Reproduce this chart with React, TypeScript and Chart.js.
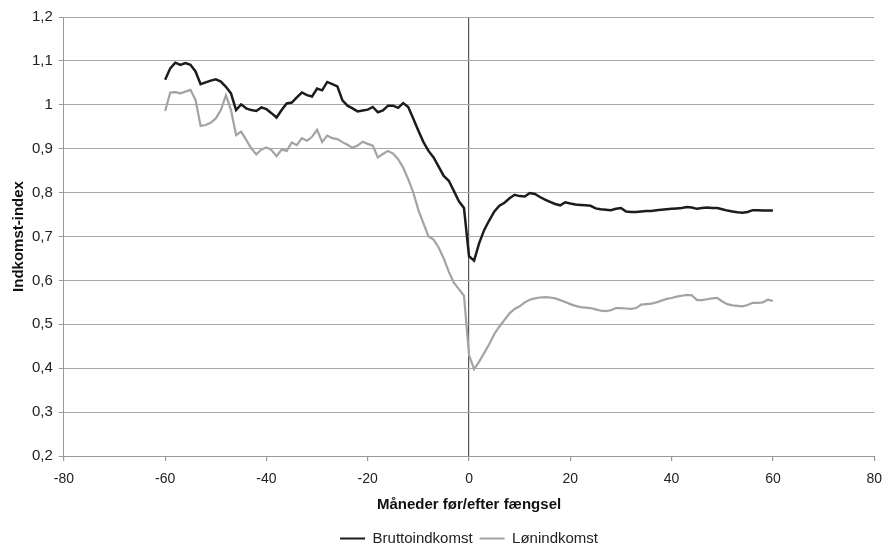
import React, { useEffect, useRef } from "react";
import { Chart, registerables } from "chart.js";

Chart.register(...registerables);

const startMonth = -60;
const months: number[] = Array.from({ length: 121 }, (_, i) => startMonth + i);

const bruttoindkomst: number[] = [
  1.057, 1.083, 1.096, 1.091, 1.095, 1.091, 1.076, 1.047, 1.051, 1.055,
  1.058, 1.053, 1.041, 1.026, 0.988, 1.001, 0.992, 0.988, 0.986, 0.994,
  0.99, 0.981, 0.971, 0.988, 1.003, 1.005, 1.017, 1.028, 1.022, 1.019,
  1.037, 1.033, 1.052, 1.047, 1.042, 1.01, 0.998, 0.992, 0.985, 0.987,
  0.989, 0.995, 0.983, 0.987, 0.998, 0.998, 0.993, 1.004, 0.995, 0.968,
  0.941, 0.915, 0.895, 0.88, 0.859, 0.838, 0.827, 0.804, 0.78, 0.765,
  0.655,
  0.645, 0.685, 0.715, 0.737, 0.757, 0.77, 0.777, 0.787, 0.795, 0.792,
  0.791, 0.799, 0.797, 0.79, 0.784, 0.779, 0.774, 0.771, 0.778, 0.775,
  0.773, 0.772, 0.771, 0.77, 0.764, 0.762, 0.761, 0.76, 0.763, 0.765,
  0.757, 0.756, 0.756, 0.757, 0.758, 0.758, 0.76, 0.761, 0.762, 0.763,
  0.764, 0.765, 0.767, 0.766, 0.763, 0.765, 0.766, 0.765, 0.765, 0.762,
  0.759, 0.757, 0.755, 0.754, 0.756, 0.76, 0.76, 0.759, 0.759, 0.759,
];

const loenindkomst: number[] = [
  0.986, 1.028, 1.029, 1.026, 1.03, 1.034, 1.011, 0.952, 0.954, 0.959,
  0.969, 0.988, 1.022, 0.988, 0.931, 0.939, 0.92, 0.901, 0.887, 0.898,
  0.903, 0.897, 0.883, 0.898, 0.895, 0.914, 0.908, 0.924, 0.918, 0.927,
  0.943, 0.915, 0.93, 0.924, 0.922, 0.915, 0.909, 0.902, 0.907, 0.916,
  0.911, 0.907, 0.88, 0.888, 0.895, 0.889, 0.876, 0.857, 0.83, 0.8,
  0.76, 0.73, 0.7, 0.693, 0.675, 0.65, 0.62, 0.595, 0.58, 0.565,
  0.43,
  0.398, 0.415, 0.435, 0.455, 0.478, 0.495, 0.51, 0.525, 0.535, 0.541,
  0.55, 0.556, 0.559, 0.561, 0.562, 0.561, 0.559, 0.555, 0.551, 0.546,
  0.542, 0.539, 0.538, 0.537, 0.534, 0.531, 0.53, 0.532, 0.537, 0.537,
  0.536, 0.535, 0.537, 0.545, 0.546, 0.547, 0.55, 0.554, 0.558, 0.56,
  0.563, 0.565, 0.567, 0.566, 0.555, 0.555, 0.557, 0.559, 0.56, 0.552,
  0.546, 0.543, 0.542, 0.541, 0.544, 0.549, 0.549, 0.55, 0.556, 0.553,
];

const seriesNames = ["Bruttoindkomst", "Lønindkomst"];
const xTitle = "Måneder før/efter fængsel";
const yTitle = "Indkomst-index";

export default function App() {
  const ref = useRef<HTMLCanvasElement | null>(null);
  useEffect(() => {
    if (!ref.current) return;
    const font = "'Liberation Sans', Arial, sans-serif";
    const chart = new Chart(ref.current, {
      type: "line",
      data: {
        datasets: [
          {
            label: seriesNames[0],
            data: months.map((m, i) => ({ x: m, y: bruttoindkomst[i] })),
            borderColor: "#1c1c1c",
            backgroundColor: "#1c1c1c",
            borderWidth: 2.5,
            pointRadius: 0,
            tension: 0,
          },
          {
            label: seriesNames[1],
            data: months.map((m, i) => ({ x: m, y: loenindkomst[i] })),
            borderColor: "#a3a3a3",
            backgroundColor: "#a3a3a3",
            borderWidth: 2.2,
            pointRadius: 0,
            tension: 0,
          },
        ],
      },
      options: {
        animation: false,
        responsive: true,
        maintainAspectRatio: false,
        layout: { padding: { left: 11, right: 0, top: 17, bottom: 0 } },
        plugins: {
          legend: {
            position: "bottom",
            fullSize: false,
            labels: {
              boxWidth: 25,
              boxHeight: 2,
              color: "#222",
              font: { family: font, size: 15 },
              padding: 7,
              generateLabels: (c: any) =>
                Chart.defaults.plugins.legend.labels
                  .generateLabels(c)
                  .map((l: any) => ({ ...l, lineWidth: 0 })),
            },
          },
          tooltip: { enabled: false },
        },
        scales: {
          x: {
            type: "linear",
            min: -80,
            max: 80,
            ticks: {
              stepSize: 20,
              color: "#222",
              font: { family: font, size: 14, lineHeight: 1 },
              padding: 11,
            },
            grid: {
              color: (ctx: any) => (ctx.tick && ctx.tick.value === 0 ? "#555" : "rgba(0,0,0,0)"),
              tickColor: "#999",
              tickLength: 5,
              lineWidth: 1.2,
            },
            border: { color: "#999" },
            title: {
              display: true,
              text: xTitle,
              color: "#111",
              font: { family: font, size: 15, weight: "bold", lineHeight: 1 },
              padding: { top: 0, bottom: 12 },
            },
          },
          y: {
            min: 0.2,
            max: 1.2,
            ticks: {
              stepSize: 0.1,
              color: "#222",
              font: { family: font, size: 15 },
              padding: 6,
              callback: (v: any) => {
                const n = Math.round(Number(v) * 10) / 10;
                return n === 1 ? "1" : n.toFixed(1).replace(".", ",");
              },
            },
            grid: {
              color: "#a8a8a8",
              tickColor: "#999",
              tickLength: 5,
            },
            border: { color: "#999" },
            title: {
              display: true,
              text: yTitle,
              color: "#111",
              font: { family: font, size: 15, weight: "bold", lineHeight: 1 },
              padding: { top: 0, bottom: 0 },
            },
          },
        },
      },
    });
    return () => chart.destroy();
  }, []);
  return (
    <div style={{ position: "fixed", left: 0, top: 0, width: 893, height: 556, background: "#fff" }}>
      <canvas ref={ref} />
    </div>
  );
}
